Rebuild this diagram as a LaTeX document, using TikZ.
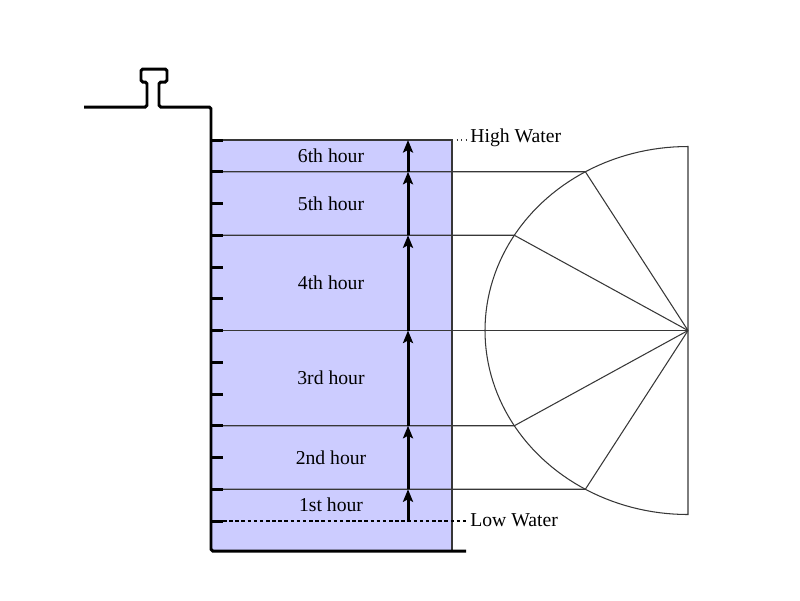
\documentclass[tikz,border=0pt]{standalone}
\usepackage{fontspec}
\setmainfont{Liberation Serif}
\usetikzlibrary{arrows.meta}
\definecolor{waterblue}{RGB}{204,204,255}
\definecolor{linegray}{RGB}{55,55,55}

\begin{document}
\begin{tikzpicture}[x=0.02cm, y=-0.02cm, >={Stealth[length=2.5mm,width=2mm,inset=0.5mm]},
    font=\fontsize{11.2}{13}\selectfont]
    \useasboundingbox (0,0) rectangle (800,600);
    % --- 参数定义 ---
    \def\HW{140}      % 高潮位
    \def\LW{521}      % 低潮位
    \def\tw{31.75}    % 潮差的十二分之一
    \def\cx{688}      % 半椭圆圆心
    \def\cy{330.5}
    \def\rx{203}      % 水平半轴
    \def\ry{184}      % 竖直半轴

    % --- 1. 填充水体 ---
    \fill[waterblue] (211,\HW) rectangle (452,551);
    \draw[linegray, line width=0.6pt] (211,\HW) -- (452,\HW) -- (452,551);

    % --- 2. 半椭圆与竖直直径 ---
    \draw[linegray, line width=0.6pt] plot[domain=0:180, samples=91, variable=\t]
        ({\cx-\rx*sin(\t)}, {\cy-\ry*cos(\t)}) -- cycle;

    % --- 3. 各小时水位线 (延伸到椭圆再连到圆心) ---
    \foreach \k in {1,3,6,9,11} {
        \pgfmathsetmacro{\yy}{\LW-\k*\tw}
        \pgfmathsetmacro{\xe}{\cx-\rx*sqrt(1-((\yy-\cy)/\ry)^2)}
        \draw[linegray, line width=0.6pt] (211,\yy) -- (\xe,\yy) -- (\cx,\cy);
    }

    % --- 4. 岸壁与系缆桩 ---
    \draw[line width=1.7pt, rounded corners=1pt] (84,107) -- (147,107) -- (147,82) -- (141,82)
        -- (141,69) -- (167,69) -- (167,82) -- (159,82) -- (159,107) -- (211,107)
        -- (211,551) -- (466,551);
    % 刻度
    \foreach \k in {0,...,12}
        \draw[line width=1.7pt] (211,{\LW-\k*\tw}) -- (223,{\LW-\k*\tw});

    % --- 5. 高低潮位标注 ---
    \draw[linegray, line width=0.6pt, dotted] (452,\HW) -- (467,\HW);
    \node[anchor=west, inner sep=0pt] (hw) at (470,138) {High Water};
    \draw[line width=0.6pt, dash pattern=on 2pt off 1.5pt] (223,\LW) -- (467,\LW);
    \node[anchor=west, inner sep=0pt] (lw) at (470,520) {Low Water};

    % --- 6. 每小时上涨箭头 ---
    \foreach \k in {0,1,3,6,9,11,12}
        \coordinate (a\k) at (408,{\LW-\k*\tw});
    \draw[->, line width=1.7pt] (a0) -- (a1);
    \draw[->, line width=1.7pt] (a1) -- (a3);
    \draw[->, line width=1.7pt] (a3) -- (a6);
    \draw[->, line width=1.7pt] (a6) -- (a9);
    \draw[->, line width=1.7pt] (a9) -- (a11);
    \draw[->, line width=1.7pt] (a11) -- (a12);

    % 小时标签
    \node (h1) at (331,{\LW-0.5*\tw}) {1st hour};
    \node (h2) at (331,{\LW-2*\tw}) {2nd hour};
    \node (h3) at (331,{\LW-4.5*\tw}) {3rd hour};
    \node (h4) at (331,{\LW-7.5*\tw}) {4th hour};
    \node (h5) at (331,{\LW-10*\tw}) {5th hour};
    \node (h6) at (331,{\LW-11.5*\tw}) {6th hour};

\end{tikzpicture}
\end{document}
